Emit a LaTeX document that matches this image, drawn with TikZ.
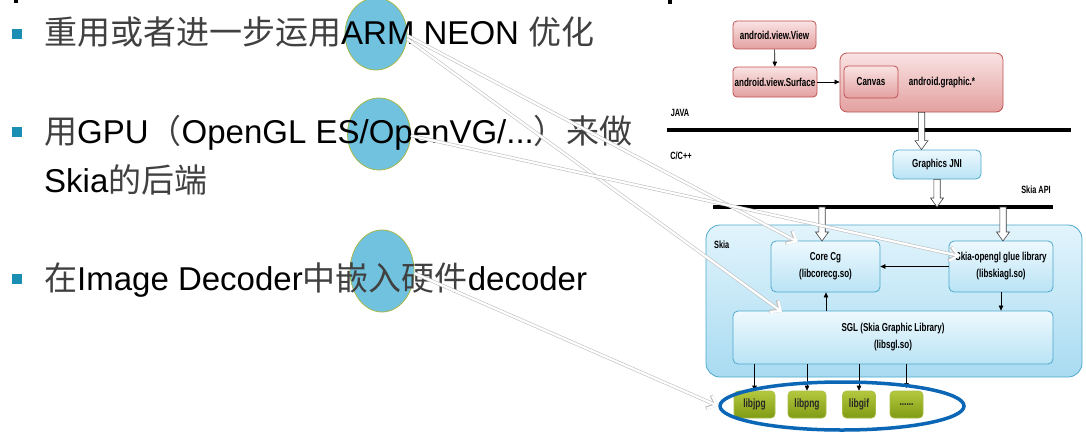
\documentclass[tikz,border=0pt]{standalone}
\usepackage{fontspec}
\setmainfont{Liberation Sans}
\newfontfamily\cjk{Noto Sans CJK SC}
\newfontfamily\narrowf[FakeStretch=0.7]{Liberation Sans}
\usetikzlibrary{shapes.geometric,arrows.meta,calc}
\definecolor{pinkT}{HTML}{FAE3E3}
\definecolor{pinkB}{HTML}{E3A0A0}
\definecolor{pinkD}{HTML}{BF5252}
\definecolor{blueT}{HTML}{EEF9FE}
\definecolor{blueB}{HTML}{B9E3F5}
\definecolor{blueD}{HTML}{4CA8CC}
\definecolor{skiaT}{HTML}{E2F4FC}
\definecolor{skiaB}{HTML}{A8DBF1}
\definecolor{greenT}{HTML}{B4C83E}
\definecolor{greenB}{HTML}{7F9B14}
\definecolor{greenD}{HTML}{A9BD45}
\definecolor{ellF}{HTML}{70C2DF}
\definecolor{ellD}{HTML}{A6B84A}
\definecolor{ringC}{HTML}{0B67B5}
\definecolor{bulletC}{HTML}{1A8FB3}
\tikzset{
  pinkbox/.style={draw=pinkD, line width=0.8pt, rounded corners=4pt, top color=pinkT, bottom color=pinkB, font=\narrowf\bfseries\fontsize{11.5}{13}\selectfont, inner sep=0pt},
  bluebox/.style={draw=blueD, line width=0.8pt, rounded corners=5pt, top color=blueT, bottom color=blueB, font=\narrowf\bfseries\fontsize{11.5}{17}\selectfont, align=center, inner sep=0pt},
  greenbox/.style={draw=greenD, line width=0.6pt, rounded corners=4pt, top color=greenT, bottom color=greenB, font=\narrowf\bfseries\fontsize{12}{13}\selectfont, text=black!85, inner sep=0pt},
  lbl/.style={font=\narrowf\bfseries\fontsize{10.5}{12}\selectfont, inner sep=0pt},
  maintext/.style={anchor=base west, inner sep=0pt, font=\fontsize{33}{38}\selectfont},
  ell/.style={ellipse, draw=ellD, line width=0.8pt, fill=ellF, inner sep=0pt},
  bullet/.style={fill=bulletC, minimum size=10pt, inner sep=0pt},
  sarrow/.style={draw=black, line width=0.6pt, -{Triangle[length=5pt,width=4.5pt]}},
  hollowar/.style={draw=black!75, line width=0.6pt, fill=white},
  warrow/.style={preaction={draw=black!25, line width=3.4pt, -{Straight Barb[length=8pt,width=14pt]}},
                 draw=white, line width=2.2pt, -{Straight Barb[length=8pt,width=14pt]}},
  sepline/.style={draw=black, line width=4pt}
}
\newcommand\harrow[2]{%
  \path[hollowar] let \p1=(#1), \p2=(#2) in
    (\x1-3.2pt,\y1) -- (\x1-3.2pt,\y2+9pt) -- (\x1-6.5pt,\y2+9pt) -- (\x1,\y2)
    -- (\x1+6.5pt,\y2+9pt) -- (\x1+3.2pt,\y2+9pt) -- (\x1+3.2pt,\y1) -- cycle;}
\begin{document}
\begin{tikzpicture}[x=1pt,y=-1pt]
\useasboundingbox[fill=white] (0,0) rectangle (1086,436);
% remnants of a title line cut off at the top
\fill (14,0) rectangle (18,3);
\fill (668,0) rectangle (672,4);
% highlight ellipses (behind the text)
\node[ell, minimum width=62pt, minimum height=72pt] (e1) at (376,34) {};
\node[ell, minimum width=63pt, minimum height=72pt] (e2) at (379,134) {};
\node[ell, minimum width=64pt, minimum height=82pt] (e3) at (382,271) {};
% left bullets
\node[bullet] (b1) at (17,34) {};
\node[bullet] (b2) at (17,132) {};
\node[bullet] (b4) at (17,279) {};
\node[maintext] (t1) at (44,45) {{\cjk\color{black!75}重用或者进一步运用}ARM NEON {\cjk\color{black!75}优化}};
\node[maintext] (t2) at (44,143) {{\cjk\color{black!75}用}GPU{\cjk\color{black!75}（}OpenGL ES/OpenVG/...{\cjk\color{black!75}）来做}};
\node[maintext] (t3) at (44,192) {Skia{\cjk\color{black!75}的后端}};
\node[maintext] (t4) at (44,290) {{\cjk\color{black!75}在}Image Decoder{\cjk\color{black!75}中嵌入硬件}decoder};
% ---------- right diagram ----------
\node[pinkbox, minimum width=83pt, minimum height=28pt] (view) at (774.5,35) {android.view.View};
\node[pinkbox, minimum width=84pt, minimum height=30pt] (surf) at (775,82) {android.view.Surface};
\node[pinkbox, minimum width=163pt, minimum height=59pt, rounded corners=7pt] (graphic) at (921.5,82.5) {};
\node[pinkbox, minimum width=54pt, minimum height=32pt] (canvas) at (871,82) {Canvas};
\node[lbl, font=\narrowf\bfseries\fontsize{11.5}{13}\selectfont] (agr) at (942,83) {android.graphic.*};
\draw[sarrow] (view) -- (surf);
\draw[sarrow] (surf.east) -- (graphic.west |- surf.east);
% layer labels and separators
\node[lbl] (java) at (680,113) {JAVA};
\coordinate (jl) at (667,130);
\coordinate (jr) at (1071,130);
\draw[sepline] (jl) -- (jr);
\node[lbl] (cpp) at (681,156) {C/C++};
\node[lbl] (skapi) at (1036,190) {Skia API};
\coordinate (sl) at (713,207);
\coordinate (sr) at (1053,207);
\draw[sepline, line width=3.5pt] (sl) -- (sr);
\node[bluebox, minimum width=88pt, minimum height=29pt] (jni) at (937,164.5) {Graphics JNI};
% Skia container
\node[draw=blueD, line width=0.8pt, rounded corners=14pt, top color=skiaT, bottom color=skiaB, minimum width=376pt, minimum height=152pt, inner sep=0pt] (skia) at (894,301) {};
\node[lbl, anchor=west] (skialbl) at (714,245) {Skia};
\node[bluebox, minimum width=109pt, minimum height=51pt] (core) at (825.5,266.5) {Core Cg\\(libcorecg.so)};
\node[bluebox, minimum width=104pt, minimum height=51pt] (glue) at (1001,266.5) {Skia-opengl glue library\\(libskiagl.so)};
\node[bluebox, minimum width=320pt, minimum height=53pt] (sgl) at (893,337.5) {SGL (Skia Graphic Library)\\(libsgl.so)};
% hollow arrows
\harrow{graphic.south}{jni.north}
\coordinate (jniapi) at (937,207);
\harrow{jni.south}{jniapi}
\coordinate (apicore) at (822,207);
\coordinate (coretop) at (822,241);
\harrow{apicore}{coretop}
\coordinate (apiglue) at (1003,207);
\coordinate (gluetop) at (1003,241);
\harrow{apiglue}{gluetop}
% internal arrows
\draw[sarrow] (glue.west) -- (core.east);
\draw[sarrow] (sgl.north -| 826,0) -- (core.south -| 826,0);
\draw[sarrow] (glue.south) -- (sgl.north -| glue.south);
% libraries
\node[greenbox, minimum width=41pt, minimum height=27pt] (jpg) at (754.5,404.5) {libjpg};
\node[greenbox, minimum width=38pt, minimum height=27pt] (png) at (807,404.5) {libpng};
\node[greenbox, minimum width=33pt, minimum height=27pt] (gif) at (859,404.5) {libgif};
\node[greenbox, minimum width=33pt, minimum height=27pt] (more) at (906.5,404.5) {......};
\draw[sarrow] (sgl.south -| jpg.north) -- (jpg.north);
\draw[sarrow] (sgl.south -| png.north) -- (png.north);
\draw[sarrow] (sgl.south -| gif.north) -- (gif.north);
\coordinate (moretop) at (906.5,388);
\draw[sarrow] (sgl.south -| moretop) -- (moretop);
\node[ellipse, draw=ringC, line width=3.5pt, minimum width=244pt, minimum height=48pt, inner sep=0pt] (ring) at (842,406) {};
% white pointer arrows
\coordinate (p1) at (798,242);
\coordinate (p2) at (782,312);
\coordinate (p3) at (960,256);
\draw[warrow] (e1.-3) -- (p1);
\draw[warrow] (e1.-9) -- (p2);
\draw[warrow] (e2.-3) -- (p3);
\draw[warrow] (e3.-4) -- (ring.west);
\end{tikzpicture}
\end{document}
